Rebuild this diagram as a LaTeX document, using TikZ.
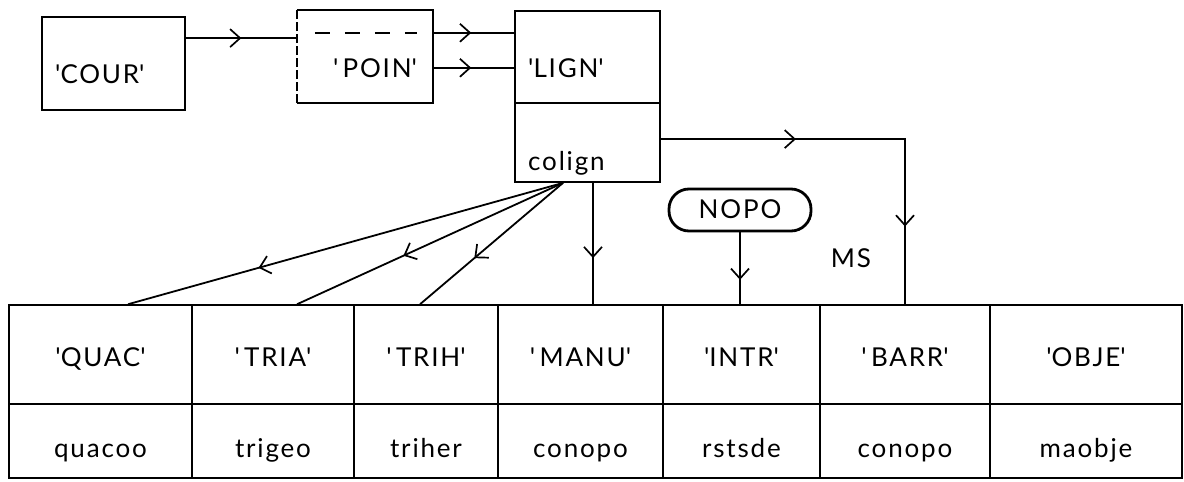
\documentclass[tikz,border=0pt]{standalone}
\usepackage{fontspec}
\setmainfont[LetterSpace=7]{Lato}
\usetikzlibrary{decorations.markings,arrows.meta}
\newcommand\quo[1]{\textquotesingle#1\textquotesingle}
\tikzset{
  barb/.tip={Straight Barb[length=10pt,width=18pt,line width=1.7pt]},
  txt/.style={font=\fontsize{26}{30}\selectfont, inner sep=0pt, anchor=base},
  box/.style={draw, line width=1.8pt, inner sep=0pt},
  cell/.style={draw, line width=1.5pt, inner sep=0pt},
  ln/.style={line width=1.8pt},
  marr/.style={postaction={decorate}, decoration={markings, mark=at position #1 with {\arrow{barb}}}},
  marrtwo/.style 2 args={postaction={decorate}, decoration={markings, mark=at position #1 with {\arrow{barb}}, mark=at position #2 with {\arrow{barb}}}},
}
\begin{document}
\begin{tikzpicture}[x=1pt,y=-1pt]
\useasboundingbox (0,0) rectangle (1184,482);
% top boxes
\node[box, minimum width=143pt, minimum height=93pt] (cour) at (113.5,63.5) {};
\node[txt, anchor=base west] (courtxt) at (55,83) {\quo{COUR}};
\node[minimum width=136pt, minimum height=93pt, inner sep=0pt] (poin) at (365,56.5) {};
\draw[ln] (poin.north west) -- (poin.north east) -- (poin.south east) -- (poin.south west);
\draw[ln, dash pattern=on 9pt off 3pt] (poin.south west) -- (poin.north west);
\node[txt] (pointxt) at (375,77) {\textquotesingle\,POIN\textquotesingle};
\draw[ln, dash pattern=on 15pt off 15pt] ([xshift=18pt,yshift=-23pt]poin.north west) -- ([xshift=-16pt,yshift=-23pt]poin.north east);
\node[box, minimum width=145pt, minimum height=92pt] (lign) at (587.5,57) {};
\node[txt, anchor=base west] (ligntxt) at (528,77) {\quo{LIGN}};
\node[box, minimum width=145pt, minimum height=79pt] (colign) at (587.5,142.5) {};
\node[txt, anchor=base west] (coligntxt) at (528,170) {colign};
% NOPO and MS
\node[draw, line width=2.8pt, rounded corners=20pt, minimum width=142pt, minimum height=42pt, inner sep=0pt] (nopo) at (740,210) {};
\node[txt] (nopotxt) at (740,218) {NOPO};
\node[txt] (ms) at (851,267) {MS};
% table
\foreach \n/\l/\r/\a/\b in {quac/9/192/{\quo{QUAC}}/quacoo, tria/192/354/{\quo{\,TRIA}}/trigeo, trih/354/498/{\quo{\,TRIH}}/triher, manu/498/663/{\quo{\,MANU}}/conopo, intr/663/820/{\quo{INTR}}/rstsde, barr/820/990/{\quo{\,BARR}}/conopo, obje/990/1182/{\quo{OBJE}}/maobje}{
  \pgfmathsetmacro\w{\r-\l}
  \pgfmathsetmacro\c{(\r+\l)/2}
  \node[cell, minimum width=\w pt, minimum height=99pt] (\n) at (\c,354.5) {};
  \node[txt] (\n t) at (\c,366) {\a};
  \node[cell, minimum width=\w pt, minimum height=74pt] (\n b) at (\c,441) {};
  \node[txt] (\n bt) at (\c,457) {\b};
}
% connectors
\draw[ln, marr=0.5] ([yshift=-22pt]cour.north east) -- ([yshift=-22pt]cour.north east -| poin.west);
\draw[ln, marr=0.47] ([yshift=-23pt]poin.north east) -- ([yshift=-23pt]poin.north east -| lign.west);
\draw[ln, marr=0.47] ([yshift=-58pt]poin.north east) -- ([yshift=-58pt]poin.north east -| lign.west);
\draw[ln, marrtwo={0.33}{0.81}] ([yshift=-37pt]colign.north east) -| (barr.north);
\draw[ln, marr=0.66] (nopo.south) -- (nopo.south |- intr.north);
\draw[ln, marr=0.62] ([xshift=5.5pt]colign.south) -- ([xshift=5.5pt]colign.south |- manu.north);
\draw[ln, marr=0.7] ([xshift=-24.5pt]colign.south) -- ([xshift=27.5pt]quac.north);
\draw[ln, marr=0.6] ([xshift=-24.5pt]colign.south) -- ([xshift=24pt]tria.north);
\draw[ln, marr=0.62] ([xshift=-24.5pt]colign.south) -- ([xshift=-6pt]trih.north);
\end{tikzpicture}
\end{document}
